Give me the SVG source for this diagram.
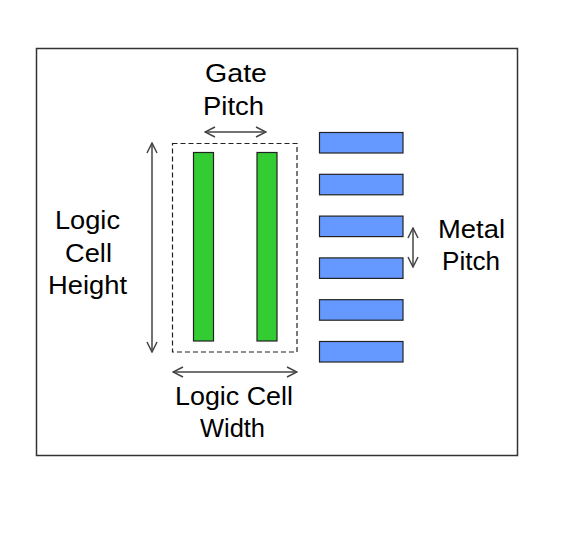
<svg xmlns="http://www.w3.org/2000/svg" width="580" height="559" viewBox="0 0 580 559">
<style>
.lbl{font-family:"Liberation Sans",Arial,sans-serif;font-size:25px;fill:#000;text-anchor:middle}
.gate{fill:#33cc33;stroke:#222;stroke-width:1.2}
.metal{fill:#6699ff;stroke:#222;stroke-width:1.2}
.arr{stroke:#444;stroke-width:1.5;fill:none;marker-start:url(#ah);marker-end:url(#ah)}
</style>
<defs>
<marker id="ah" viewBox="0 0 12 12" refX="11" refY="6" markerWidth="12" markerHeight="12" markerUnits="userSpaceOnUse" orient="auto-start-reverse">
<path d="M1,1 L11,6 L1,11" fill="none" stroke="#444" stroke-width="1.5"/>
</marker>
</defs>
<rect x="0" y="0" width="580" height="559" fill="#fff"/>
<rect id="frame" x="36.5" y="48.5" width="481" height="407" fill="none" stroke="#333" stroke-width="1.5"/>
<g id="cell">
<rect x="172.5" y="143.5" width="124.5" height="208.5" fill="none" stroke="#222" stroke-width="1.2" stroke-dasharray="5,3"/>
</g>
<g id="gates">
<rect class="gate" x="193.5" y="152.5" width="20" height="188.5"/>
<rect class="gate" x="257" y="152.5" width="20" height="188.5"/>
</g>
<g id="metals">
<rect class="metal" x="319.5" y="132.5" width="83.5" height="20.5"/>
<rect class="metal" x="319.5" y="174.3" width="83.5" height="20.5"/>
<rect class="metal" x="319.5" y="216.1" width="83.5" height="20.5"/>
<rect class="metal" x="319.5" y="257.9" width="83.5" height="20.5"/>
<rect class="metal" x="319.5" y="299.7" width="83.5" height="20.5"/>
<rect class="metal" x="319.5" y="341.5" width="83.5" height="20.5"/>
</g>
<g id="connectors">
<line class="arr" x1="205" y1="132" x2="266" y2="132"/>
<line class="arr" x1="173" y1="372" x2="297" y2="372"/>
<line class="arr" x1="152" y1="143" x2="152" y2="352"/>
<line class="arr" x1="413" y1="228" x2="413" y2="267"/>
</g>
<g id="labels">
<text class="lbl" x="236" y="82" textLength="62" lengthAdjust="spacingAndGlyphs">Gate</text>
<text class="lbl" x="233.5" y="115" textLength="61" lengthAdjust="spacingAndGlyphs">Pitch</text>
<text class="lbl" x="87.5" y="229" textLength="65" lengthAdjust="spacingAndGlyphs">Logic</text>
<text class="lbl" x="88.5" y="262" textLength="47" lengthAdjust="spacingAndGlyphs">Cell</text>
<text class="lbl" x="87.5" y="294" textLength="79" lengthAdjust="spacingAndGlyphs">Height</text>
<text class="lbl" x="234" y="405" textLength="118" lengthAdjust="spacingAndGlyphs">Logic Cell</text>
<text class="lbl" x="232.5" y="437" textLength="65" lengthAdjust="spacingAndGlyphs">Width</text>
<text class="lbl" x="471.5" y="238" textLength="67" lengthAdjust="spacingAndGlyphs">Metal</text>
<text class="lbl" x="471" y="270" textLength="58" lengthAdjust="spacingAndGlyphs">Pitch</text>
</g>
</svg>
